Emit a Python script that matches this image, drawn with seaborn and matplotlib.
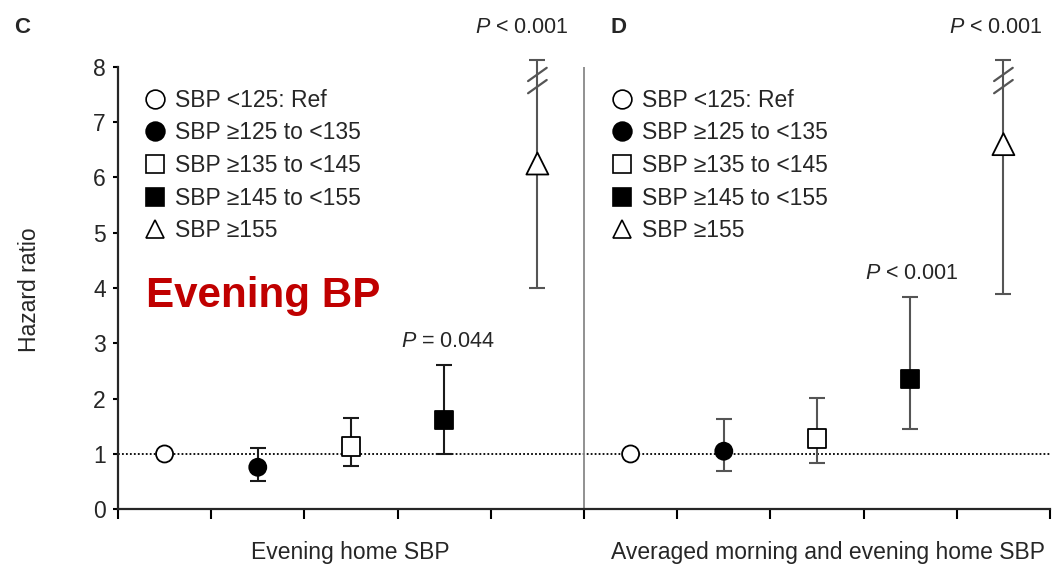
import numpy as np
import pandas as pd
import matplotlib
matplotlib.use("Agg")
import matplotlib.pyplot as plt
import seaborn as sns
from matplotlib.lines import Line2D

# dados (razao de risco e IC 95%)
groups = ["SBP <125: Ref", "SBP \u2265125 to <135", "SBP \u2265135 to <145",
          "SBP \u2265145 to <155", "SBP \u2265155"]
evening_hr = [1.00, 0.76, 1.13, 1.61, 6.25]
evening_lo = [1.00, 0.51, 0.78, 1.00, 4.00]
evening_hi = [1.00, 1.10, 1.65, 2.61, 8.12]   # ultimo valor cortado (eixo quebrado)
averaged_hr = [1.00, 1.05, 1.28, 2.36, 6.60]
averaged_lo = [1.00, 0.70, 0.84, 1.46, 3.90]
averaged_hi = [1.00, 1.64, 2.02, 3.83, 8.12]  # ultimo valor cortado (eixo quebrado)
panel_names = ["Evening home SBP", "Averaged morning and evening home SBP"]

sns.set_style("ticks")
plt.rcParams['font.family'] = ['Liberation Sans', 'DejaVu Sans']
plt.rcParams['mathtext.fontset'] = 'custom'
plt.rcParams['mathtext.it'] = 'Liberation Sans:italic'
plt.rcParams['mathtext.rm'] = 'Liberation Sans'

n = len(groups)
df = pd.DataFrame({
    "group": groups * 2,
    "pos": np.concatenate([np.arange(n) + 0.5, np.arange(n) + 5.5]),
    "hr": evening_hr + averaged_hr,
    "lo": evening_lo + averaged_lo,
    "hi": evening_hi + averaged_hi,
    "panel": [panel_names[0]] * n + [panel_names[1]] * n,
})

face = dict(zip(groups, ["white", "black", "white", "black", "white"]))
marks = dict(zip(groups, ["o", "o", "s", "s", "^"]))
msize = dict(zip(groups, [150, 150, 185, 170, 250]))

fig = plt.figure(figsize=(10.57, 5.76), dpi=100)
ax = fig.add_axes([0.1116, 0.1158, 0.8818, 0.7684])

# linha de referencia HR = 1
ax.axhline(1, color="black", ls=(0, (1, 1.2)), lw=1.3, zorder=1)
ax.axvline(5, color="#888888", lw=1.3, zorder=1)

# barras de erro
for i, row in df.iterrows():
    if row["group"] == groups[0]:
        continue
    left = row["panel"] == panel_names[0]
    col = "#555555" if (not left or row["group"] == groups[-1]) else "#1a1a1a"
    ax.errorbar(row["pos"], row["hr"], yerr=[[row["hr"] - row["lo"]], [row["hi"] - row["hr"]]],
                fmt="none", ecolor=col, elinewidth=1.5, capsize=5.5, capthick=1.5,
                zorder=2, clip_on=False)

# marcas de quebra no eixo para o grupo >=155
for x0 in [4.5, 9.5]:
    for yc in [7.86, 7.64]:
        ax.plot([x0 - 0.1, x0 + 0.1], [yc - 0.12, yc + 0.12], color="#555555", lw=1.6,
                clip_on=False, zorder=3)

sns.scatterplot(data=df, x="pos", y="hr", hue="group", style="group", size="group",
                palette=face, markers=marks, sizes=msize, hue_order=groups,
                style_order=groups, size_order=groups,
                edgecolor="black", linewidth=1.3, zorder=4, clip_on=False,
                ax=ax, legend=True)

handles = [Line2D([], [], ls="none", marker=marks[g], markersize=13.5,
                  markerfacecolor=face[g], markeredgecolor="black", markeredgewidth=1.2)
           for g in groups]
ax.get_legend().remove()
leg_kw = dict(loc="upper left", frameon=False, fontsize=16.5, handlelength=1.0,
              handletextpad=0.37, labelspacing=0.42, borderpad=0, borderaxespad=0,
              bbox_transform=fig.transFigure)
leg1 = ax.legend(handles, groups, bbox_to_anchor=(0.1358, 0.846), **leg_kw)
ax.add_artist(leg1)
ax.legend(handles, groups, bbox_to_anchor=(0.5773, 0.846), **leg_kw)

ax.set_xlim(0, 10)
ax.set_ylim(0, 8)
ax.set_xticks(range(0, 11))
ax.set_xticklabels([])
ax.set_yticks(range(0, 9))
ax.tick_params(axis="x", length=7.5, width=1.5, color="black")
ax.tick_params(axis="y", length=3.8, width=1.5, labelsize=16.5, pad=5, color="black")
for s in ["top", "right"]:
    ax.spines[s].set_visible(False)
for s in ["left", "bottom"]:
    ax.spines[s].set_linewidth(1.6)
ax.set_xlabel("")
ax.set_ylabel("")

fig.text(0.028, 0.497, "Hazard ratio", rotation=90, ha="center", va="center", fontsize=16.5)
fig.text(0.331, 0.040, panel_names[0], ha="center", va="center", fontsize=16.5)
fig.text(0.783, 0.040, panel_names[1], ha="center", va="center", fontsize=16.5)

fig.text(0.013, 0.953, "C", fontsize=16, fontweight="bold", va="center")
fig.text(0.578, 0.953, "D", fontsize=16, fontweight="bold", va="center")

fig.text(0.4939, 0.953, "$P$ < 0.001", ha="center", va="center", fontsize=15.5)
fig.text(0.942, 0.953, "$P$ < 0.001", ha="center", va="center", fontsize=15.5)
ax.text(3.54, 3.04, "$P$ = 0.044", ha="center", va="center", fontsize=15.5)
ax.text(8.52, 4.27, "$P$ < 0.001", ha="center", va="center", fontsize=15.5)

ax.text(0.3, 3.85, "Evening BP", color="#c00000", fontsize=30.3, fontweight="bold",
        ha="left", va="center")

fig.savefig("out.png", dpi=100)
